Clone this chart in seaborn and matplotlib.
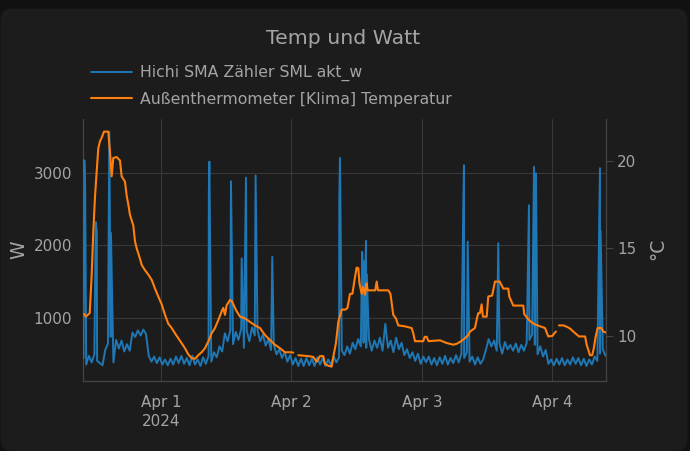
import numpy as np
import pandas as pd
import matplotlib
matplotlib.use("Agg")
import matplotlib.pyplot as plt
import seaborn as sns
from matplotlib.patches import FancyBboxPatch
from matplotlib.transforms import IdentityTransform
from matplotlib.lines import Line2D

# ---------------- data ----------------
chart_title = "Temp und Watt"
watt_label = "Hichi SMA Zähler SML akt_w"
temp_label = "Außenthermometer [Klima] Temperatur"
left_axis_title = "W"
right_axis_title = "°C"

origin = pd.Timestamp("2024-03-31 00:00")

# power readings every half hour starting 09:45 on Mar 31
watt_start_hour = 9.75
watt_step_hours = 0.5
watt_base = [
    450, 360, 480, 390, 500, 410, 380, 350, 560, 650,
    740, 390, 700, 580, 690, 540, 640, 550, 800, 740,
    830, 760, 840, 780, 480, 400, 470, 380, 460, 360,
    430, 350, 440, 360, 470, 380, 480, 370, 450, 350,
    480, 360, 430, 340, 460, 370, 480, 400, 530, 460,
    610, 540, 790, 680, 830, 640, 810, 700, 850, 590,
    830, 680, 870, 760, 830, 680, 770, 620, 710, 560,
    630, 500, 570, 450, 530, 400, 490, 360, 450, 340,
    440, 340, 450, 350, 440, 340, 460, 360, 450, 340,
    430, 350, 470, 390, 460, 550, 490, 610, 510, 660,
    570, 710, 610, 660, 590, 710, 550, 690, 590, 730,
    550, 920, 590, 690, 530, 730, 570, 660, 490, 570,
    450, 530, 410, 510, 370, 470, 390, 470, 360, 450,
    350, 460, 370, 480, 360, 450, 380, 490, 390, 510,
    450, 530, 400, 470, 360, 460, 370, 430, 560, 710,
    610, 690, 550, 650, 510, 670, 570, 630, 550, 650,
    530, 630, 550, 660, 700, 770, 630, 500, 610, 470,
    560, 370, 430, 350, 440, 360, 450, 350, 430, 360,
    460, 370, 450, 350, 440, 340, 430, 360, 470, 410,
    510, 570, 480,
]

# short load peaks (hours since Mar 31 00:00, watts)
spike_hours = [9.9, 10.05, 12.0, 12.2, 14.5, 14.8, 32.8, 32.9, 36.87, 38.84,
               39.63, 41.4, 44.47, 56.8, 56.92, 61.0, 61.2, 61.4, 61.55, 61.7,
               61.85, 79.6, 79.72, 80.4, 86.03, 91.67, 92.6, 92.8, 92.96,
               104.73, 104.85]
spike_watts = [3170, 2870, 2320, 2190, 3560, 2170, 2720, 3150, 2880, 1820,
               2930, 2960, 1840, 2650, 3200, 1910, 1500, 1780, 1450, 2060,
               1600, 2580, 3100, 2050, 2030, 2550, 3080, 2400, 2990,
               3060, 2200]

# outdoor temperature (hours since Mar 31 00:00, °C); nan = gap
temp_hours = [
    9.84, 10.2, 10.9, 11.26, 11.55, 11.86, 12.18, 12.47, 12.78, 13.09,
    13.52, 14.31, 14.62, 14.93, 15.23, 15.85, 16.46, 16.77, 17.38, 17.69,
    17.99, 18.3, 18.91, 19.22, 19.53, 20.14, 20.45, 21.06, 21.66, 22.29,
    22.9, 23.5, 24.13, 24.74, 25.34, 25.97, 26.57, 27.18, 27.81, 28.41,
    29.02, 29.65, 30.25, 30.86, 31.48, 32.09, 32.7, 33.32, 33.93, 34.54,
    35.16, 35.46, 35.77, 36.08, 36.69, 37.0, 37.3, 37.92, 38.53, 39.45,
    40.37, 41.29, 42.21, 43.13, 44.04, 44.96, 45.88, 46.8, 47.72, 48.33,
    48.8, 49.25, 51.09, 52.01, 52.63, 53.24, 53.85, 54.16, 54.77, 55.39,
    55.69, 56.18, 56.61, 57.23, 57.9, 58.3, 58.76, 59.2, 59.6, 59.99,
    60.29, 60.5, 60.91, 61.2, 61.52, 61.8, 62.0, 62.44, 63.4, 63.67,
    63.9, 65.8, 66.2, 66.72, 67.2, 67.64, 68.8, 70.1, 70.4, 70.71,
    72.24, 72.5, 72.86, 73.2, 75.31, 76.5, 77.75, 78.38, 79.2, 79.91,
    80.51, 80.83, 81.74, 82.1, 82.35, 82.66, 82.97, 83.2, 83.9, 84.19,
    84.9, 85.42, 86.3, 86.95, 87.87, 88.05, 88.79, 90.63, 90.81, 91.68,
    92.65, 94.62, 95.23, 96.0, 96.33, 96.64, 96.9, 97.19, 98.0, 98.8,
    99.3, 99.82, 100.87, 102.0, 102.28, 102.6, 102.89, 103.3, 103.6, 103.94,
    104.31, 105.0, 105.34, 105.78,
]
temp_values = [
    11.25, 11.1, 11.3, 13.5, 15.9, 17.9, 19.4, 20.7, 21.1, 21.3,
    21.65, 21.65, 20.5, 19.1, 20.15, 20.2, 20.0, 19.1, 18.8, 18.0,
    17.5, 16.9, 16.3, 15.4, 15.0, 14.4, 14.05, 13.75, 13.5, 13.2,
    12.7, 12.25, 11.8, 11.2, 10.7, 10.45, 10.15, 9.87, 9.58, 9.3,
    8.95, 8.73, 8.7, 8.9, 9.07, 9.3, 9.68, 10.15, 10.45, 10.9,
    11.4, 11.6, 11.2, 11.75, 12.05, 12.0, 11.8, 11.4, 11.1, 11.0,
    10.8, 10.6, 10.45, 10.05, 9.77, 9.5, 9.3, 9.07, 9.07, 9.05,
    np.nan, 8.9, 8.85, 8.8, 8.53, 8.85, 8.85, 8.4, 8.3, 8.25,
    8.8, 9.6, 10.8, 11.5, 11.5, 11.6, 12.4, 12.4, 13.2, 13.9,
    13.86, 13.0, 12.4, 12.8, 12.35, 13.0, 12.6, 12.6, 12.6, 13.1,
    12.6, 12.6, 12.4, 11.2, 11.0, 10.6, 10.55, 10.45, 10.15, 9.7,
    9.7, 9.95, 9.95, 9.7, 9.75, 9.6, 9.5, 9.55, 9.7, 9.87,
    10.05, 10.25, 10.45, 11.0, 11.3, 11.3, 11.8, 11.1, 11.1, 12.25,
    12.3, 13.1, 13.1, 12.7, 12.7, 12.25, 11.73, 11.73, 11.24, 10.9,
    10.67, 10.45, 9.97, 10.0, 10.15, 10.25, np.nan, 10.6, 10.6, 10.5,
    10.4, 10.25, 9.97, 9.97, 9.5, 9.2, 8.9, 8.9, 9.3, 9.97,
    10.45, 10.45, 10.25, 10.2,
]

x_tick_dates = ["2024-04-01", "2024-04-02", "2024-04-03", "2024-04-04"]
x_tick_labels = ["Apr 1\n2024", "Apr 2", "Apr 3", "Apr 4"]
watt_ticks = [1000, 2000, 3000]
temp_ticks = [10, 15, 20]
x_range_hours = [9.66, 105.84]
watt_range = [134, 3736]
temp_range = [7.43, 22.37]

# ---------------- frames ----------------
base_times = origin + pd.to_timedelta(
    watt_start_hour + watt_step_hours * np.arange(len(watt_base)), unit="h")
spike_times = origin + pd.to_timedelta(spike_hours, unit="h")
watt_df = pd.DataFrame({
    "time": list(base_times) + list(spike_times),
    "watt": list(watt_base) + list(spike_watts),
}).sort_values("time").reset_index(drop=True)

temp_df = pd.DataFrame({
    "time": origin + pd.to_timedelta(temp_hours, unit="h"),
    "temp": temp_values,
})
temp_df["segment"] = temp_df["temp"].isna().cumsum()
temp_df = temp_df.dropna().reset_index(drop=True)

# ---------------- style ----------------
sns.set_style("dark")
plt.rcParams["font.family"] = ["DejaVu Sans"]

OUTER = "#111111"
CARD = "#1c1c1c"
GRID = "#383838"
SPINE = "#454545"
TEXT = "#a4a4a4"
BLUE = "#1f77b4"
ORANGE = "#ff7f0e"

W, H = 690, 451
fig = plt.figure(figsize=(W / 100, H / 100), dpi=100, facecolor=OUTER)

card = FancyBboxPatch((0.5, 0), 687, 442.5,
                      boxstyle="round,pad=0,rounding_size=12",
                      transform=IdentityTransform(), facecolor=CARD,
                      edgecolor="none", zorder=-10)
fig.add_artist(card)

ax = fig.add_axes([83 / W, 70 / H, 523 / W, 262 / H])
ax.set_facecolor("none")
ax2 = ax.twinx()
ax2.set_facecolor("none")

sns.lineplot(data=watt_df, x="time", y="watt", ax=ax, color=BLUE,
             linewidth=1.4, estimator=None, legend=False, zorder=3)
sns.lineplot(data=temp_df, x="time", y="temp", units="segment",
             estimator=None, ax=ax2, color=ORANGE, linewidth=1.5,
             legend=False, zorder=3)

ax.set_xlim(origin + pd.Timedelta(hours=x_range_hours[0]),
            origin + pd.Timedelta(hours=x_range_hours[1]))
ax.set_ylim(*watt_range)
ax2.set_ylim(*temp_range)

ax.set_xticks(pd.to_datetime(x_tick_dates))
ax.set_xticklabels(x_tick_labels)
for lbl in ax.get_xticklabels():
    lbl.set_linespacing(1.35)
ax.set_yticks(watt_ticks)
ax.set_yticklabels([str(v) for v in watt_ticks])
ax2.set_yticks(temp_ticks)
ax2.set_yticklabels([str(v) for v in temp_ticks])

ax.set_xlabel("")
ax.set_ylabel("")
ax2.set_ylabel("")

ax.grid(True, color=GRID, linewidth=0.8)
ax.set_axisbelow(True)
ax2.grid(False)

for name, sp in ax.spines.items():
    sp.set_visible(name in ("left", "bottom"))
    sp.set_color(SPINE)
    sp.set_linewidth(0.9)
for name, sp in ax2.spines.items():
    sp.set_visible(name == "right")
    sp.set_color(SPINE)
    sp.set_linewidth(0.9)

ax.tick_params(axis="x", colors=TEXT, labelsize=10.9, length=5,
               width=0.8, pad=5, color=GRID)
ax.tick_params(axis="y", colors=TEXT, labelsize=10.9, length=0, pad=8)
ax2.tick_params(axis="y", colors=TEXT, labelsize=10.9, length=5,
                width=0.8, pad=3, color=SPINE)

fig.text(343 / W, 1 - 39 / H, chart_title, ha="center", va="center",
         fontsize=14.7, color=TEXT)
fig.text(19 / W, 1 - 250 / H, left_axis_title, rotation=90, ha="center",
         va="center", fontsize=13.5, color=TEXT)
fig.text(658 / W, 1 - 249 / H, right_axis_title, rotation=90, ha="center",
         va="center", fontsize=13.5, color=TEXT)

handles = [Line2D([], [], color=BLUE, linewidth=1.4),
           Line2D([], [], color=ORANGE, linewidth=1.5)]
fig.legend(handles, [watt_label, temp_label], loc="upper left",
           bbox_to_anchor=(91 / W, 1 - 65 / H), frameon=False,
           fontsize=11.3, handlelength=2.6, handletextpad=0.5,
           labelspacing=0.68, borderpad=0, borderaxespad=0,
           labelcolor=TEXT)

fig.savefig("out.png", dpi=100, facecolor=OUTER)
